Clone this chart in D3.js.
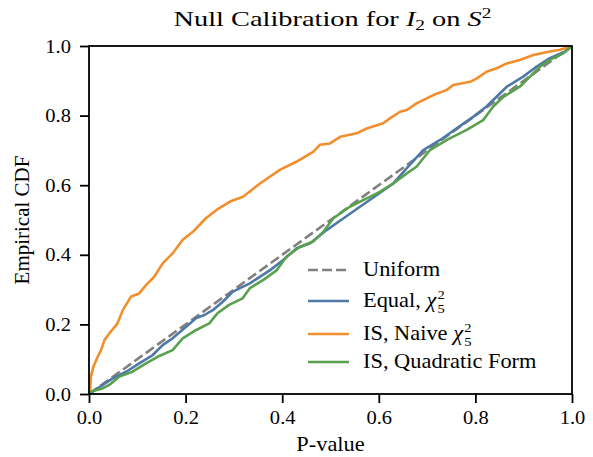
<!DOCTYPE html>
<html>
<head>
<meta charset="utf-8">
<script src="https://cdn.jsdelivr.net/npm/d3@7"></script>
<style>
  body { margin: 0; background: #fff; }
  svg { display: block; }
  text { font-family: "Liberation Serif", serif; fill: #000; }
</style>
</head>
<body>
<div id="chart"></div>
<script>
const xTicks = [0, 0.2, 0.4, 0.6, 0.8, 1.0];
const yTicks = [0, 0.2, 0.4, 0.6, 0.8, 1.0];

const uniformX = [0, 1];
const uniformY = [0, 1];

const equalX = [0, 0.021, 0.049, 0.077, 0.104, 0.132, 0.153, 0.173, 0.201, 0.222,
  0.239, 0.256, 0.277, 0.298, 0.318, 0.333, 0.375, 0.402, 0.430, 0.458,
  0.492, 0.527, 0.561, 0.596, 0.630, 0.658, 0.692, 0.727, 0.762, 0.796,
  0.823, 0.865, 0.899, 0.927, 0.954, 0.986, 1.0];
const equalY = [0, 0.019, 0.045, 0.064, 0.088, 0.112, 0.141, 0.160, 0.193, 0.218,
  0.227, 0.241, 0.265, 0.294, 0.308, 0.318, 0.356, 0.385, 0.419, 0.433,
  0.471, 0.505, 0.538, 0.572, 0.605, 0.649, 0.701, 0.730, 0.764, 0.797,
  0.826, 0.883, 0.912, 0.941, 0.965, 0.984, 1.0];

const naiveX = [0, 0.002, 0.004, 0.009, 0.018, 0.025, 0.032, 0.042, 0.059, 0.070,
  0.087, 0.104, 0.118, 0.135, 0.153, 0.173, 0.194, 0.215, 0.242, 0.264,
  0.292, 0.319, 0.354, 0.395, 0.430, 0.464, 0.478, 0.499, 0.520, 0.554,
  0.575, 0.609, 0.623, 0.644, 0.658, 0.678, 0.713, 0.741, 0.754, 0.789,
  0.803, 0.823, 0.844, 0.865, 0.892, 0.920, 0.954, 0.975, 0.992, 1.0];
const naiveY = [0, 0.007, 0.050, 0.078, 0.107, 0.126, 0.155, 0.174, 0.203, 0.241,
  0.280, 0.289, 0.313, 0.337, 0.376, 0.404, 0.443, 0.466, 0.505, 0.529,
  0.553, 0.567, 0.605, 0.644, 0.668, 0.696, 0.716, 0.720, 0.739, 0.749,
  0.763, 0.778, 0.792, 0.811, 0.816, 0.835, 0.859, 0.874, 0.888, 0.897,
  0.907, 0.926, 0.936, 0.950, 0.960, 0.974, 0.984, 0.989, 0.996, 1.0];

const quadX = [0, 0.004, 0.028, 0.042, 0.063, 0.090, 0.118, 0.142, 0.173, 0.194,
  0.222, 0.249, 0.266, 0.290, 0.318, 0.333, 0.361, 0.389, 0.409, 0.437,
  0.464, 0.485, 0.506, 0.540, 0.575, 0.602, 0.630, 0.658, 0.678, 0.706,
  0.741, 0.782, 0.816, 0.837, 0.858, 0.892, 0.913, 0.934, 0.954, 0.982, 1.0];
const quadY = [0, 0.007, 0.016, 0.026, 0.050, 0.064, 0.088, 0.107, 0.126, 0.160,
  0.184, 0.203, 0.232, 0.256, 0.275, 0.304, 0.328, 0.356, 0.395, 0.423,
  0.438, 0.466, 0.505, 0.538, 0.562, 0.581, 0.605, 0.634, 0.653, 0.701,
  0.730, 0.759, 0.787, 0.826, 0.854, 0.883, 0.912, 0.941, 0.960, 0.979, 1.0];

const FONT = "'Liberation Serif', serif";
const MARGIN = { TOP: 46, LEFT: 89, RIGHT: 21, BOTTOM: 63 };
const WIDTH = 593 - MARGIN.LEFT - MARGIN.RIGHT;
const HEIGHT = 457 - MARGIN.TOP - MARGIN.BOTTOM;

const series = [
  { name: "uniform", xs: uniformX, ys: uniformY, color: "#808080", dash: "10,4" },
  { name: "equal", xs: equalX, ys: equalY, color: "#4e79a7", dash: null },
  { name: "naive", xs: naiveX, ys: naiveY, color: "#f28e2b", dash: null },
  { name: "quad", xs: quadX, ys: quadY, color: "#59a14f", dash: null }
];

// Times is narrower than the Computer Modern of the original, widen it a bit
function widen(sel, ax, sx) {
  sel.attr("transform", `translate(${ax},0) scale(${sx},1) translate(${-ax},0)`);
}

const svg = d3.select("#chart")
  .append("svg")
    .attr("width", 593)
    .attr("height", 457);

const g = svg.append("g")
  .attr("transform", `translate(${MARGIN.LEFT}, ${MARGIN.TOP})`);

const x = d3.scaleLinear().domain([0, 1]).range([0, WIDTH]);
const y = d3.scaleLinear().domain([0, 1]).range([HEIGHT, 0]);

const line = d3.line()
  .x(d => x(d[0]))
  .y(d => y(d[1]));

g.append("defs").append("clipPath").attr("id", "clip")
  .append("rect").attr("width", WIDTH).attr("height", HEIGHT);

series.forEach(s => {
  g.append("path")
    .datum(d3.zip(s.xs, s.ys))
    .attr("clip-path", "url(#clip)")
    .attr("d", line)
    .attr("fill", "none")
    .attr("stroke", s.color)
    .attr("stroke-width", 2.6)
    .attr("stroke-linejoin", "round")
    .attr("stroke-dasharray", s.dash);
});

// frame
g.append("rect")
  .attr("width", WIDTH)
  .attr("height", HEIGHT)
  .attr("fill", "none")
  .attr("stroke", "#000")
  .attr("stroke-width", 1.8);

const xAxis = g.append("g")
  .attr("transform", `translate(0, ${HEIGHT})`)
  .call(d3.axisBottom(x).tickValues(xTicks).tickFormat(d3.format(".1f")).tickSize(9).tickPadding(8));
const yAxis = g.append("g")
  .call(d3.axisLeft(y).tickValues(yTicks).tickFormat(d3.format(".1f")).tickSize(9).tickPadding(9));

[xAxis, yAxis].forEach(a => {
  a.attr("font-family", null);
  a.select(".domain").remove();
  a.selectAll(".tick line").attr("stroke", "#000").attr("stroke-width", 1.8);
  a.selectAll(".tick text")
    .style("font-family", FONT)
    .style("font-size", "19px")
    .attr("fill", "#000");
});
xAxis.selectAll(".tick text").each(function() { widen(d3.select(this), 0, 1.08); });
yAxis.selectAll(".tick text").each(function() { widen(d3.select(this), -18, 1.08); });

// title
const titleX = MARGIN.LEFT + WIDTH / 2 + 2;
const title = svg.append("text")
  .attr("x", titleX)
  .attr("y", 26)
  .attr("text-anchor", "middle")
  .style("font-size", "22px");
title.append("tspan").text("Null Calibration for ");
title.append("tspan").style("font-style", "italic").text("I");
title.append("tspan").attr("dy", 4).style("font-size", "15px").text("2");
title.append("tspan").attr("dy", -4).text(" on ");
title.append("tspan").style("font-style", "italic").text("S");
title.append("tspan").attr("dy", -8).style("font-size", "15px").text("2");
widen(title, titleX, 318 / title.node().getBBox().width);

const xLabel = svg.append("text")
  .attr("x", MARGIN.LEFT + WIDTH / 2)
  .attr("y", 451)
  .attr("text-anchor", "middle")
  .style("font-size", "20px")
  .text("P-value");
widen(xLabel, MARGIN.LEFT + WIDTH / 2, 1.12);

svg.append("g")
  .attr("transform", `translate(29, ${MARGIN.TOP + HEIGHT / 2}) rotate(-90)`)
  .append("text")
    .attr("text-anchor", "middle")
    .attr("transform", "scale(1.05,1)")
    .style("font-size", "20px")
    .text("Empirical CDF");

// legend
const legendRows = [
  { s: series[0], y: 270, label: "Uniform", chi: false },
  { s: series[1], y: 301, label: "Equal, ", chi: true },
  { s: series[2], y: 334, label: "IS, Naive ", chi: true },
  { s: series[3], y: 362, label: "IS, Quadratic Form", chi: false }
];

const legend = svg.append("g");
legendRows.forEach(r => {
  legend.append("line")
    .attr("x1", 308).attr("x2", 349)
    .attr("y1", r.y).attr("y2", r.y)
    .attr("stroke", r.s.color)
    .attr("stroke-width", 2.6)
    .attr("stroke-dasharray", r.s.dash);
  const row = legend.append("g");
  const t = row.append("text")
    .attr("x", 363)
    .attr("y", r.y + 6)
    .style("font-size", "20px");
  t.append("tspan").text(r.label);
  if (r.chi) {
    t.append("tspan").style("font-style", "italic").text("χ");
    const end = 363 + t.node().getComputedTextLength() + 1;
    row.append("text")
      .attr("x", end).attr("y", r.y - 2)
      .style("font-size", "13px")
      .text("2");
    row.append("text")
      .attr("x", end).attr("y", r.y + 12)
      .style("font-size", "13px")
      .text("5");
  }
  widen(row, 363, 1.12);
});
</script>
</body>
</html>
